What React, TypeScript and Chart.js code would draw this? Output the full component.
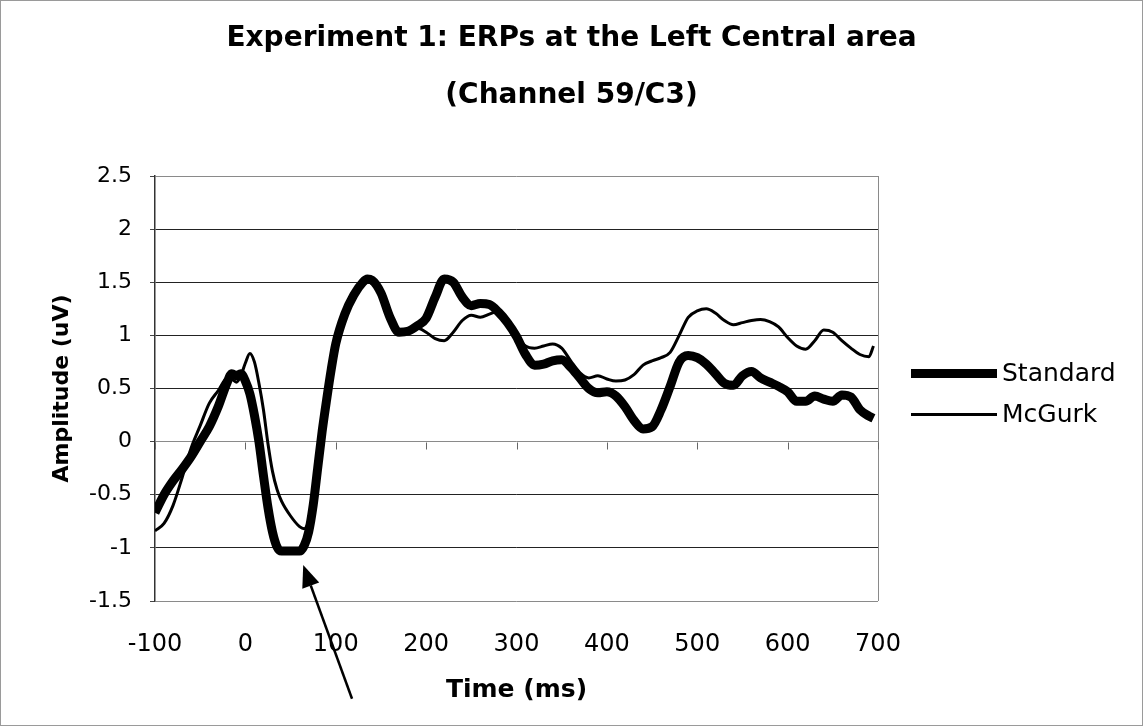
import React, { useEffect, useRef } from "react";
import { Chart, registerables } from "chart.js";

Chart.register(...registerables);

const titleLines = ["Experiment 1: ERPs at the Left Central area", "(Channel 59/C3)"];
const xTitle = "Time (ms)";
const yTitle = "Amplitude (uV)";

const times = [
  -100, -90, -80, -70, -60, -50, -40, -30, -20, -15, -10, -5, 0, 5, 10, 15, 20, 25, 30, 35, 40, 50, 60, 65, 70, 75,
  80, 85, 90, 95, 100, 110, 120, 130, 135, 140, 150, 160, 170, 180, 190, 200, 210, 220, 230, 240, 250, 260, 270, 280,
  290, 300, 310, 320, 330, 340, 350, 360, 370, 380, 390, 400, 410, 420, 430, 440, 450, 460, 470, 480, 490, 500, 510,
  520, 530, 540, 550, 560, 570, 580, 590, 600, 610, 620, 630, 640, 650, 660, 670, 680, 690, 695,
];

const standard = [
  -0.67, -0.5, -0.37, -0.26, -0.14, 0.0, 0.14, 0.33, 0.56, 0.64, 0.62, 0.64, 0.57, 0.45, 0.25, 0.0, -0.32, -0.62,
  -0.85, -0.99, -1.03, -1.03, -1.03, -0.98, -0.85, -0.6, -0.25, 0.1, 0.4, 0.68, 0.92, 1.2, 1.38, 1.5, 1.53, 1.52, 1.4,
  1.17, 1.03, 1.04, 1.09, 1.16, 1.36, 1.53, 1.5, 1.36, 1.28, 1.3, 1.29, 1.22, 1.12, 0.99, 0.82, 0.72, 0.73, 0.76, 0.77,
  0.7, 0.6, 0.5, 0.46, 0.47, 0.43, 0.33, 0.2, 0.12, 0.14, 0.3, 0.52, 0.75, 0.81, 0.79, 0.73, 0.64, 0.55, 0.53, 0.62,
  0.66, 0.6, 0.56, 0.52, 0.47, 0.38, 0.38, 0.43, 0.4, 0.38, 0.44, 0.42, 0.3, 0.24, 0.22,
];

const mcgurk = [
  -0.84, -0.77, -0.6, -0.34, -0.06, 0.15, 0.36, 0.48, 0.6, 0.59, 0.56, 0.62, 0.74, 0.83, 0.75, 0.55, 0.3, -0.02,
  -0.28, -0.45, -0.56, -0.7, -0.8, -0.82, -0.75, -0.55, -0.25, 0.07, 0.38, 0.65, 0.9, 1.18, 1.36, 1.47, 1.5, 1.49, 1.37,
  1.15, 1.02, 1.03, 1.07, 1.03, 0.97, 0.95, 1.03, 1.14, 1.19, 1.17, 1.2, 1.23, 1.12, 1.0, 0.9, 0.88, 0.9, 0.92, 0.88,
  0.76, 0.65, 0.6, 0.62, 0.59, 0.57, 0.58, 0.63, 0.72, 0.76, 0.79, 0.84, 1.0, 1.17, 1.23, 1.25, 1.21, 1.14, 1.1, 1.12,
  1.14, 1.15, 1.13, 1.08, 0.98, 0.9, 0.87, 0.95, 1.05, 1.03, 0.95, 0.88, 0.82, 0.8, 0.9,
];

const seriesLabels = ["Standard", "McGurk"];
const xMin = -100;
const xMax = 700;
const xStep = 100;
const yMin = -1.5;
const yMax = 2.5;
const yStep = 0.5;

// annotation arrow in data units (tail, head)
const arrowTail = { x: 118, y: -2.42 };
const arrowHead = { x: 64, y: -1.16 };

const FONT = "'DejaVu Sans', Verdana, sans-serif";

const decorPlugin = {
  id: "decor",
  beforeDatasetsDraw(chart: any) {
    const { ctx, chartArea, scales } = chart;
    const xs = scales.x;
    const ys = scales.y;
    ctx.save();
    // right border of plot area
    ctx.strokeStyle = "#8a8a8a";
    ctx.lineWidth = 1;
    ctx.beginPath();
    ctx.moveTo(Math.round(chartArea.right) + 0.5, chartArea.top);
    ctx.lineTo(Math.round(chartArea.right) + 0.5, chartArea.bottom);
    ctx.stroke();
    // tick marks on the zero line
    const y0 = Math.round(ys.getPixelForValue(0)) + 0.5;
    ctx.strokeStyle = "#666";
    for (let v = xMin; v <= xMax; v += xStep) {
      const px = Math.round(xs.getPixelForValue(v)) + 0.5;
      ctx.beginPath();
      ctx.moveTo(px, y0);
      ctx.lineTo(px, y0 + 7);
      ctx.stroke();
    }
    ctx.restore();
  },
  afterDraw(chart: any) {
    const { ctx, chartArea, scales, width } = chart;
    ctx.save();
    // title
    ctx.fillStyle = "#000";
    ctx.textAlign = "center";
    ctx.textBaseline = "middle";
    ctx.font = `bold 28px ${FONT}`;
    ctx.fillText(titleLines[0], width / 2, 38);
    ctx.fillText(titleLines[1], width / 2, 95);

    // legend
    const ds = chart.data.datasets;
    const lx = chartArea.right + 33;
    const lineLen = 86;
    const cy = (chartArea.top + chartArea.bottom) / 2;
    const startY = cy - 15;
    ds.forEach((d: any, i: number) => {
      const y = startY + i * 41;
      ctx.strokeStyle = d.borderColor;
      ctx.lineWidth = d.borderWidth;
      ctx.lineCap = "butt";
      ctx.beginPath();
      ctx.moveTo(lx, y);
      ctx.lineTo(lx + lineLen, y);
      ctx.stroke();
      ctx.fillStyle = "#000";
      ctx.textAlign = "left";
      ctx.textBaseline = "middle";
      ctx.font = `25px ${FONT}`;
      ctx.fillText(d.label, lx + lineLen + 5, y + 1);
    });

    // arrow annotation
    const xs = scales.x;
    const ys = scales.y;
    const tx = xs.getPixelForValue(arrowTail.x);
    const ty = ys.getPixelForValue(arrowTail.y);
    const hx = xs.getPixelForValue(arrowHead.x);
    const hy = ys.getPixelForValue(arrowHead.y);
    const ang = Math.atan2(hy - ty, hx - tx);
    const headLen = 22;
    const headHalf = 9;
    const bx = hx - Math.cos(ang) * headLen;
    const by = hy - Math.sin(ang) * headLen;
    ctx.strokeStyle = "#000";
    ctx.fillStyle = "#000";
    ctx.lineWidth = 2.5;
    ctx.beginPath();
    ctx.moveTo(tx, ty);
    ctx.lineTo(bx, by);
    ctx.stroke();
    ctx.beginPath();
    ctx.moveTo(hx, hy);
    ctx.lineTo(bx + Math.sin(ang) * headHalf, by - Math.cos(ang) * headHalf);
    ctx.lineTo(bx - Math.sin(ang) * headHalf, by + Math.cos(ang) * headHalf);
    ctx.closePath();
    ctx.fill();
    ctx.restore();
  },
};

export default function App() {
  const ref = useRef<HTMLCanvasElement | null>(null);

  useEffect(() => {
    document.body.style.margin = "0";
    const canvas = ref.current;
    if (!canvas) return;
    const chart = new Chart(canvas, {
      type: "line",
      data: {
        datasets: [
          {
            label: seriesLabels[0],
            data: times.map((t, i) => ({ x: t, y: standard[i] })),
            borderColor: "#000",
            borderWidth: 9,
            pointRadius: 0,
            cubicInterpolationMode: "monotone",
            fill: false,
          },
          {
            label: seriesLabels[1],
            data: times.map((t, i) => ({ x: t, y: mcgurk[i] })),
            borderColor: "#000",
            borderWidth: 3,
            pointRadius: 0,
            cubicInterpolationMode: "monotone",
            fill: false,
          },
        ],
      },
      options: {
        animation: false,
        responsive: false,
        maintainAspectRatio: false,
        events: [],
        layout: { padding: { top: 175, right: 264, bottom: 0, left: 0 } },
        plugins: {
          legend: { display: false },
          title: { display: false },
          tooltip: { enabled: false },
        },
        scales: {
          x: {
            type: "linear",
            min: xMin,
            max: xMax,
            afterFit: (s: any) => {
              s.height = 124;
            },
            ticks: {
              stepSize: xStep,
              color: "#000",
              font: { family: FONT, size: 24 },
              padding: 29,
              maxRotation: 0,
              autoSkip: false,
            },
            grid: { display: false, drawTicks: false },
            border: { display: false },
            title: {
              display: true,
              text: xTitle,
              color: "#000",
              font: { family: FONT, size: 25, weight: "bold" },
              padding: { top: 0, bottom: 20 },
            },
          },
          y: {
            type: "linear",
            min: yMin,
            max: yMax,
            afterFit: (s: any) => {
              s.width = 154;
            },
            ticks: {
              stepSize: yStep,
              color: "#000",
              font: { family: FONT, size: 22 },
              padding: 18,
              callback: (v: any) => String(parseFloat(Number(v).toFixed(2))),
            },
            grid: {
              color: (c: any) => {
                const v = c.tick ? c.tick.value : null;
                if (v === 0 || v === yMax || v === yMin) return "#8a8a8a";
                return "#222";
              },
              lineWidth: 1,
              drawTicks: true,
              tickLength: 5,
              tickColor: "#444",
            },
            border: { display: true, color: "#333", width: 1.5 },
            title: {
              display: true,
              text: yTitle,
              color: "#000",
              font: { family: FONT, size: 22, weight: "bold" },
              padding: { top: 48, bottom: 0 },
            },
          },
        },
      },
      plugins: [decorPlugin],
    } as any);
    return () => chart.destroy();
  }, []);

  return (
    <div
      style={{
        width: 1143,
        height: 726,
        position: "relative",
        boxSizing: "border-box",
        border: "1px solid #9a9a9a",
        background: "#fff",
        overflow: "hidden",
      }}
    >
      <canvas ref={ref} width={1141} height={724} style={{ display: "block" }} />
    </div>
  );
}
